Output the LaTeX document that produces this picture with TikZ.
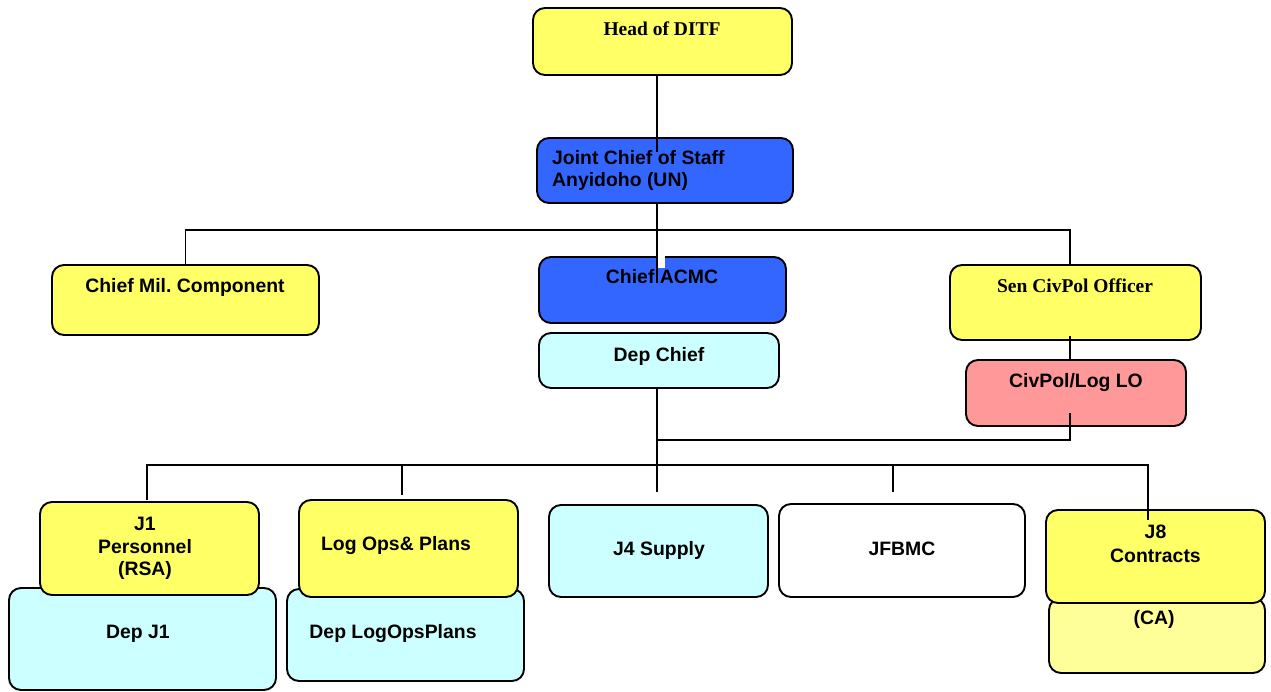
\documentclass[tikz,border=0pt]{standalone}
\usepackage{fontspec}
\setmainfont{Liberation Sans}
\newfontfamily\timesbold{Liberation Serif}
\definecolor{yel}{HTML}{FFFF66}
\definecolor{blu}{HTML}{3366FF}
\definecolor{cyn}{HTML}{CCFFFF}
\definecolor{pnk}{HTML}{FF9999}
\definecolor{pale}{HTML}{FFFF99}
\frenchspacing
\tikzset{
  unitbox/.style={draw=black, line width=1.9pt, rounded corners=12pt, inner sep=0pt},
  lbl/.style={font=\fontsize{19.4}{22}\selectfont\bfseries, inner sep=0pt, anchor=base},
  slbl/.style={font=\fontsize{19.5}{22}\selectfont\timesbold\bfseries, inner sep=0pt, anchor=base},
  link/.style={line width=1.8pt, draw=black}
}
\begin{document}
\begin{tikzpicture}[x=1pt, y=-1pt]
\useasboundingbox (0,0) rectangle (1271,691);

% --- boxes ---
\node[unitbox, fill=yel, minimum width=259pt, minimum height=67pt] (head) at (662.5,41.5) {};
\node[unitbox, fill=blu, minimum width=256pt, minimum height=65pt] (joint) at (665,170.5) {};
\node[unitbox, fill=yel, minimum width=267pt, minimum height=70pt] (mil) at (185.5,300) {};
\node[unitbox, fill=blu, minimum width=247pt, minimum height=66pt] (acmc) at (662.5,290) {};
\node[unitbox, fill=cyn, minimum width=240pt, minimum height=55pt] (dep) at (659,360.5) {};
\node[unitbox, fill=yel, minimum width=251pt, minimum height=75pt] (sen) at (1075.5,302.5) {};
\node[unitbox, fill=pnk, minimum width=220pt, minimum height=66pt] (civlo) at (1076,393) {};

\node[unitbox, fill=cyn, minimum width=267pt, minimum height=102pt] (depj1) at (142.5,639) {};
\node[unitbox, fill=yel, minimum width=219pt, minimum height=93pt] (j1) at (149.5,548.5) {};
\node[unitbox, fill=cyn, minimum width=237pt, minimum height=92pt] (deplog) at (405.5,635) {};
\node[unitbox, fill=yel, minimum width=219pt, minimum height=97pt] (logops) at (408.5,548.5) {};
\node[unitbox, fill=cyn, minimum width=219pt, minimum height=92pt] (j4) at (658.5,551) {};
\node[unitbox, fill=white, minimum width=246pt, minimum height=93pt] (jfbmc) at (902,550.5) {};
\node[unitbox, fill=pale, minimum width=216pt, minimum height=75pt] (ca) at (1157,635.5) {};
\node[unitbox, fill=yel, minimum width=219pt, minimum height=93pt] (j8) at (1155.5,556.5) {};

% --- junction points of the connector tree ---
\coordinate (jin) at (657,152);
\coordinate (busA) at (657,230);
\coordinate (senDrop) at (1070,230);
\coordinate (acmcIn) at (657,283);
\coordinate (busB) at (657,440);
\coordinate (busC) at (657,465);
\coordinate (d1) at (147,500);
\coordinate (d2) at (402,495);
\coordinate (d3) at (657,492);
\coordinate (d4) at (893,492);
\coordinate (d5) at (1148,520);
\coordinate (loOut) at (1070,413);

% --- connectors ---
\draw[link] (head.south -| jin) -- (jin);
\draw[link] (joint.south -| busA) -- (busA) -- (acmcIn);
\draw[link] (mil.north) |- (senDrop) -- (senDrop |- sen.north);
\fill[white] (658,256) rectangle (665,268);
\draw[link] ([yshift=5pt]sen.south -| senDrop) -- (civlo.north -| senDrop);
\draw[link] (loOut) |- (busB);
\draw[link] (dep.south -| busC) -- (d3);
\draw[link] (d1) |- (busC) -| (d5);
\draw[link] (d2) -- (d2 |- busC);
\draw[link] (d4) -- (d4 |- busC);

% --- labels ---
\node[slbl] (headT) at (662,35) {Head of DITF};
\node[lbl, anchor=base west] (jointT1) at (552,164) {Joint Chief of Staff};
\node[lbl, anchor=base west] (jointT2) at (552,186) {Anyidoho (UN)};
\node[lbl] (milT) at (185,292) {Chief Mil. Component};
\node[lbl] (acmcT) at (662,283) {Chief ACMC};
\node[lbl] (depT) at (659,361) {Dep Chief};
\node[slbl] (senT) at (1075,292) {Sen CivPol Officer};
\node[lbl] (civloT) at (1076,387) {CivPol/Log LO};
\node[lbl] (j1T1) at (145,530) {J1};
\node[lbl] (j1T2) at (145,553) {Personnel};
\node[lbl] (j1T3) at (145,575) {(RSA)};
\node[lbl] (depj1T) at (138,638) {Dep J1};
\node[lbl] (logopsT) at (396,550) {Log Ops\& Plans};
\node[lbl] (deplogT) at (393,638) {Dep LogOpsPlans};
\node[lbl] (j4T) at (659,555) {J4 Supply};
\node[lbl] (jfbmcT) at (902,555) {JFBMC};
\node[lbl] (j8T1) at (1155.5,538) {J8};
\node[lbl] (j8T2) at (1155.5,562) {Contracts};
\node[lbl] (caT) at (1154,624) {(CA)};
\end{tikzpicture}
\end{document}
